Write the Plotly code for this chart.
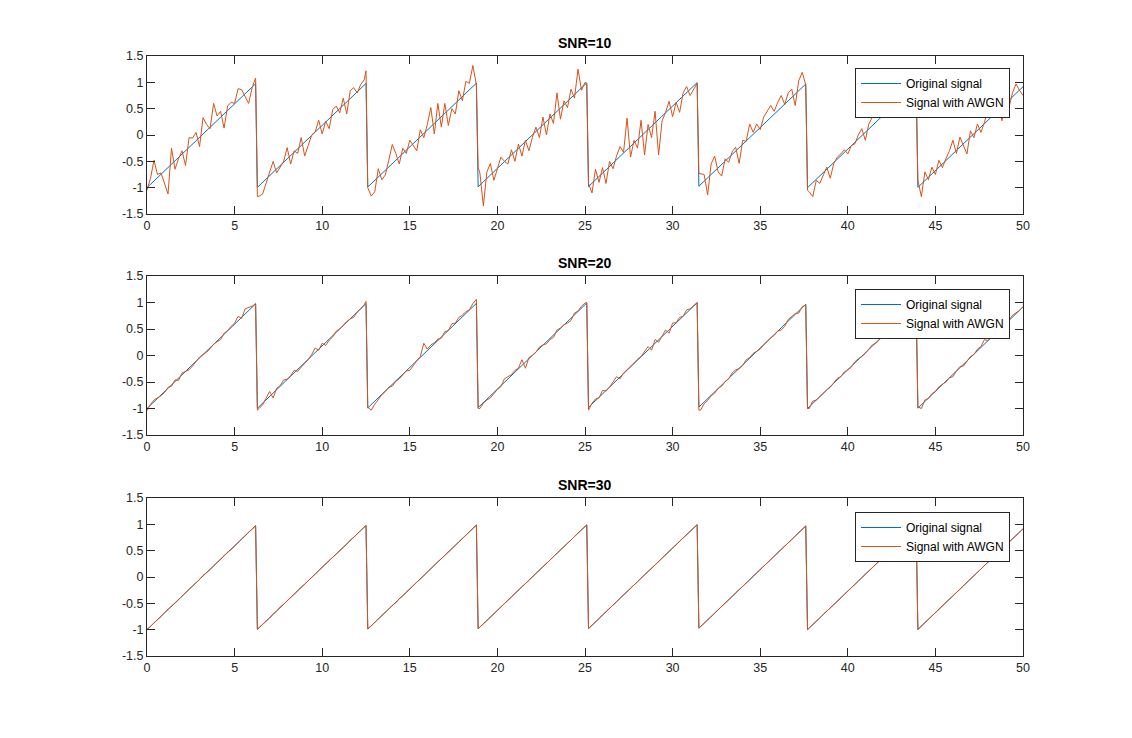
import numpy as np
import plotly.graph_objects as go

BLUE = "#0072BD"
ORANGE = "#D95319"
AXIS = "#262626"
FONT = "Liberation Sans, Arial, sans-serif"

# original sawtooth: corner points (t, value)
orig_t = [0, 6.2, 6.3, 12.5, 12.6, 18.8, 18.9, 25.1, 25.2, 31.4, 31.5, 37.6, 37.7, 43.9, 44.0, 50.0]
orig_y = [-1.0, 0.974, -0.995, 0.979, -0.989, 0.984, -0.984, 0.990, -0.979, 0.995,
          -0.973, 0.968, -1.0, 0.974, -0.994, 0.916]

# sample times of the noisy signals: every 0.2, plus the samples right at the jumps
t_grid = np.round(np.arange(0, 50.0001, 0.2), 1)
drop_t = [6.3, 12.5, 18.9, 25.1, 31.5, 37.7, 43.9]

# signal with AWGN, SNR=10
snr10 = [
    -1.05, -0.82, -0.48, -0.75, -0.72, -0.90, -1.12, -0.25, -0.65, -0.45, -0.30, -0.58, -0.05, -0.06, 0.05, -0.22,
    0.33, 0.20, 0.12, 0.60, 0.36, 0.45, 0.13, 0.55, 0.62, 0.60, 0.88, 0.86, 0.72, 0.60, 0.90, 1.08,
    -1.16, -1.12, -0.90, -0.70, -0.50, -0.72, -0.60, -0.50, -0.24, -0.55, -0.30, -0.35, -0.05, -0.40, -0.20, 0.00,
    0.06, 0.28, 0.02, 0.26, 0.12, 0.48, 0.55, 0.42, 0.70, 0.40, 0.84, 0.90, 0.80, 0.96, 1.05,
    -1.00, -1.16, -1.08, -0.64, -0.85, -0.76, -0.48, -0.18, -0.35, -0.55, -0.25, -0.35, -0.10, -0.20, -0.30, 0.10,
    -0.05, 0.20, 0.52, 0.02, 0.60, 0.15, 0.60, 0.18, 0.50, 0.40, 0.84, 0.65, 1.02, 0.98, 1.32, 0.95,
    -0.72, -1.35, -0.70, -0.54, -0.86, -0.66, -0.42, -0.50, -0.55, -0.28, -0.50, -0.17, -0.40, -0.10, -0.30, -0.04,
    0.15, -0.05, 0.34, 0.00, 0.40, 0.22, 0.80, 0.30, 0.65, 0.52, 0.87, 0.70, 1.25, 0.85, 1.00,
    -0.92, -1.10, -0.65, -0.90, -0.62, -0.92, -0.50, -0.64, -0.40, -0.22, -0.33, 0.32, -0.42, -0.10, -0.25, 0.28,
    -0.38, 0.20, -0.05, 0.45, -0.38, 0.27, 0.43, 0.64, 0.35, 0.62, 0.43, 0.80, 0.92, 0.75, 0.88, 0.98,
    -0.74, -0.75, -1.14, -0.55, -0.40, -0.70, -0.78, -0.45, -0.52, -0.32, -0.23, -0.54, -0.10, -0.12, 0.21, 0.05,
    0.21, 0.10, 0.34, 0.45, 0.56, 0.45, 0.62, 0.75, 0.58, 0.80, 0.87, 0.56, 1.03, 1.19, 0.95,
    -1.08, -1.17, -0.86, -0.92, -0.78, -0.61, -0.82, -0.54, -0.42, -0.36, -0.28, -0.36, -0.20, -0.17, 0.00, 0.12,
    -0.10, 0.21, 0.34, 0.75, 0.34, 0.52, 0.55, 0.70, 0.50, 0.34, 0.80, 0.85, 0.75, 0.90, 0.98,
    -0.86, -1.17, -0.70, -0.85, -0.61, -0.75, -0.48, -0.62, -0.45, -0.30, -0.10, -0.35, -0.04, -0.20, -0.36, 0.08,
    -0.05, 0.21, 0.05, 0.24, 0.49, 0.36, 0.68, 0.55, 0.27, 0.65, 0.52, 0.80, 0.97, 0.85, 0.75,
]
snr10_drop = [-1.17, 1.22, -0.62, 0.97, -0.73, -1.05, 0.95]

# signal with AWGN, SNR=20 (middle panel)
snr20 = [
    -1.04, -0.92, -0.84, -0.80, -0.76, -0.70, -0.60, -0.58, -0.46, -0.47, -0.33, -0.30, -0.27, -0.20, -0.12, -0.03,
    0.02, 0.06, 0.13, 0.21, 0.26, 0.30, 0.42, 0.47, 0.55, 0.61, 0.74, 0.70, 0.88, 0.90, 0.93, 0.98,
    -1.00, -0.93, -0.80, -0.68, -0.80, -0.62, -0.57, -0.46, -0.45, -0.38, -0.28, -0.30, -0.22, -0.15, -0.08, 0.02,
    0.14, 0.10, 0.23, 0.19, 0.29, 0.35, 0.46, 0.50, 0.58, 0.64, 0.69, 0.72, 0.82, 0.88, 0.96,
    -0.98, -1.03, -0.92, -0.82, -0.74, -0.68, -0.60, -0.58, -0.49, -0.44, -0.37, -0.29, -0.28, -0.18, -0.10, -0.02,
    0.23, 0.12, 0.20, 0.24, 0.31, 0.33, 0.45, 0.47, 0.60, 0.61, 0.72, 0.76, 0.83, 0.86, 0.98, 1.06,
    -1.00, -0.90, -0.84, -0.80, -0.72, -0.64, -0.59, -0.44, -0.40, -0.36, -0.28, -0.24, -0.08, -0.24, -0.04, 0.00,
    0.06, 0.16, 0.20, 0.22, 0.30, 0.34, 0.48, 0.52, 0.58, 0.61, 0.66, 0.80, 0.84, 0.93, 0.99,
    -1.03, -0.90, -0.82, -0.80, -0.66, -0.67, -0.60, -0.50, -0.40, -0.44, -0.33, -0.27, -0.20, -0.15, -0.07, -0.02,
    0.07, 0.17, 0.10, 0.30, 0.25, 0.37, 0.48, 0.42, 0.61, 0.62, 0.72, 0.74, 0.86, 0.88, 0.95, 1.00,
    -1.03, -0.91, -0.85, -0.76, -0.71, -0.62, -0.58, -0.49, -0.44, -0.33, -0.27, -0.25, -0.19, -0.08, -0.04, 0.04,
    0.08, 0.12, 0.20, 0.27, 0.33, 0.38, 0.46, 0.48, 0.55, 0.68, 0.74, 0.79, 0.80, 0.92, 0.95,
    -1.00, -0.86, -0.84, -0.77, -0.70, -0.65, -0.60, -0.52, -0.43, -0.40, -0.31, -0.27, -0.22, -0.12, -0.06, -0.02,
    0.04, 0.12, 0.20, 0.23, 0.30, 0.36, 0.42, 0.50, 0.56, 0.62, 0.70, 0.75, 0.81, 0.87, 0.94,
    -0.97, -1.00, -0.84, -0.81, -0.72, -0.68, -0.59, -0.55, -0.50, -0.42, -0.40, -0.29, -0.21, -0.20, -0.10, -0.02,
    0.02, 0.12, 0.17, 0.30, 0.28, 0.36, 0.45, 0.47, 0.55, 0.67, 0.66, 0.76, 0.80, 0.85, 0.92,
]
snr20_drop = [-1.03, 1.02, -1.00, 1.00, -1.03, -1.00, 0.97]

# signal with AWGN, SNR=30 (bottom panel)
snr30 = [
    -0.99, -0.94, -0.87, -0.81, -0.75, -0.67, -0.62, -0.55, -0.50, -0.43, -0.36, -0.31, -0.23, -0.17, -0.11, -0.05,
    0.03, 0.08, 0.14, 0.21, 0.28, 0.33, 0.40, 0.47, 0.52, 0.59, 0.66, 0.72, 0.78, 0.85, 0.91, 0.97,
    -0.96, -0.91, -0.84, -0.78, -0.70, -0.65, -0.57, -0.52, -0.45, -0.39, -0.33, -0.26, -0.19, -0.14, -0.07, -0.01,
    0.05, 0.12, 0.19, 0.25, 0.31, 0.37, 0.44, 0.50, 0.56, 0.62, 0.70, 0.75, 0.82, 0.88, 0.95,
    -0.98, -0.93, -0.86, -0.80, -0.73, -0.67, -0.61, -0.54, -0.49, -0.41, -0.36, -0.29, -0.22, -0.16, -0.10, -0.04,
    0.03, 0.09, 0.16, 0.22, 0.29, 0.35, 0.41, 0.47, 0.54, 0.60, 0.67, 0.73, 0.80, 0.86, 0.92, 0.99,
    -0.95, -0.89, -0.82, -0.76, -0.70, -0.63, -0.57, -0.51, -0.45, -0.38, -0.31, -0.25, -0.19, -0.12, -0.06, 0.00,
    0.07, 0.13, 0.19, 0.26, 0.32, 0.39, 0.45, 0.51, 0.58, 0.64, 0.70, 0.77, 0.83, 0.89, 0.96,
    -0.98, -0.92, -0.85, -0.79, -0.72, -0.66, -0.60, -0.53, -0.47, -0.40, -0.34, -0.28, -0.21, -0.15, -0.09, -0.02,
    0.04, 0.10, 0.17, 0.23, 0.29, 0.36, 0.42, 0.49, 0.55, 0.61, 0.68, 0.74, 0.80, 0.87, 0.93, 0.99,
    -0.94, -0.88, -0.81, -0.75, -0.69, -0.62, -0.56, -0.50, -0.43, -0.37, -0.30, -0.24, -0.18, -0.11, -0.05, 0.01,
    0.08, 0.14, 0.20, 0.27, 0.33, 0.40, 0.46, 0.52, 0.59, 0.65, 0.71, 0.78, 0.84, 0.90, 0.97,
    -0.97, -0.90, -0.84, -0.78, -0.71, -0.65, -0.59, -0.52, -0.46, -0.40, -0.33, -0.27, -0.20, -0.14, -0.08, -0.01,
    0.05, 0.11, 0.18, 0.24, 0.31, 0.37, 0.43, 0.50, 0.56, 0.62, 0.69, 0.75, 0.81, 0.88, 0.94,
    -1.00, -0.93, -0.87, -0.80, -0.74, -0.68, -0.61, -0.55, -0.49, -0.42, -0.36, -0.29, -0.23, -0.17, -0.10, -0.04,
    0.02, 0.09, 0.15, 0.22, 0.28, 0.34, 0.41, 0.47, 0.53, 0.60, 0.66, 0.72, 0.79, 0.85, 0.91,
]
snr30_drop = [-0.99, 0.98, -0.98, 0.99, -0.97, -1.00, 0.97]

titles = ["SNR=10", "SNR=20", "SNR=30"]
noisy = [(snr10, snr10_drop), (snr20, snr20_drop), (snr30, snr30_drop)]

x_ticks = [0, 5, 10, 15, 20, 25, 30, 35, 40, 45, 50]
y_ticks = [-1.5, -1, -0.5, 0, 0.5, 1, 1.5]
y_ticktext = ["-1.5", "-1", "-0.5", "0", "0.5", "1", "1.5"]

W, H = 1132, 738
# pixel boxes of the three axes (top, bottom) and legend tops
panel_px = [(56, 214), (276, 435), (498, 656)]
legend_top_px = [68, 289, 512]
x_left, x_right = 147, 1023

t_all = np.concatenate([t_grid, drop_t])
order = np.argsort(t_all, kind="stable")

fig = go.Figure()
layout = dict(
    width=W, height=H,
    margin=dict(l=0, r=0, t=0, b=0, autoexpand=False),
    paper_bgcolor="white", plot_bgcolor="white",
    font=dict(family=FONT, size=12.5, color=AXIS),
    showlegend=True,
    annotations=[],
)

for i, (title, (vals, drop_vals)) in enumerate(zip(titles, noisy)):
    assert len(vals) == len(t_grid), (title, len(vals))
    ys = np.concatenate([vals, drop_vals])[order]
    n = "" if i == 0 else str(i + 1)
    leg = "legend" + n
    fig.add_trace(go.Scatter(x=orig_t, y=orig_y, mode="lines", name="Original signal",
                             line=dict(color=BLUE, width=1), xaxis="x" + n, yaxis="y" + n,
                             legend=leg))
    fig.add_trace(go.Scatter(x=t_all[order], y=ys, mode="lines", name="Signal with AWGN",
                             line=dict(color=ORANGE, width=1), xaxis="x" + n, yaxis="y" + n,
                             legend=leg))

    top, bot = panel_px[i]
    dom_y = [1 - bot / H, 1 - top / H]
    axis_common = dict(showline=True, linecolor=AXIS, linewidth=1, mirror="ticks",
                       ticks="inside", ticklen=8, tickcolor=AXIS, tickwidth=1,
                       showgrid=False, zeroline=False, automargin=False,
                       tickfont=dict(family=FONT, size=12.5, color=AXIS))
    layout["xaxis" + n] = dict(domain=[x_left / W, x_right / W], range=[0, 50],
                               tickvals=x_ticks, anchor="y" + n, **axis_common)
    layout["yaxis" + n] = dict(domain=dom_y, range=[-1.5, 1.5], tickvals=y_ticks,
                               ticktext=y_ticktext, anchor="x" + n, **axis_common)
    layout[leg] = dict(x=1010 / W, y=1 - legend_top_px[i] / H, xanchor="right", yanchor="top",
                       bgcolor="white", bordercolor=AXIS, borderwidth=1,
                       font=dict(family=FONT, size=12, color="black"),
                       itemwidth=40, tracegroupgap=0)
    layout["annotations"].append(dict(
        text="<b>" + title + "</b>", x=(x_left + x_right) / 2 / W, y=1 - (top - 13) / H,
        xref="paper", yref="paper", xanchor="center", yanchor="middle", showarrow=False,
        font=dict(family=FONT, size=14, color="black")))

fig.update_layout(**layout)
# page without the default body margin so the figure sits at (0, 0)
fig.write_html("out.html", config={"displayModeBar": False},
               post_script="document.body.style.margin='0';")
